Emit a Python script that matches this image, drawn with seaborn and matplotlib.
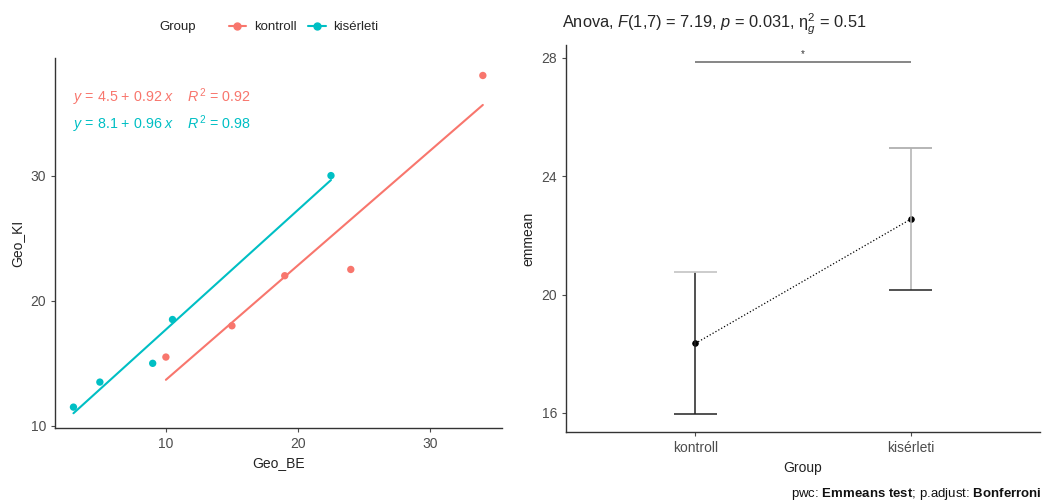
import pandas as pd
import matplotlib.pyplot as plt
import seaborn as sns
from matplotlib.lines import Line2D


# ---- data ----
groups = ['kontroll', 'kisérleti']
colors = ['#F8766D', '#00BFC4']

kontroll_be = [10, 15, 19, 24, 34]
kontroll_ki = [15.5, 18, 22, 22.5, 38]
kiserleti_be = [3, 5, 9, 10.5, 22.5]
kiserleti_ki = [11.5, 13.5, 15, 18.5, 30]

eq_labels = [r'$\it{y}$ = 4.5 + 0.92 $\it{x}$    $\it{R}^2$ = 0.92',
             r'$\it{y}$ = 8.1 + 0.96 $\it{x}$    $\it{R}^2$ = 0.98']

emmean = [18.35, 22.55]
ci_low = [15.95, 20.15]
ci_high = [20.75, 24.95]

sns.set_theme(style='ticks')
plt.rcParams['font.family'] = ['Liberation Sans', 'DejaVu Sans']
plt.rcParams['mathtext.fontset'] = 'custom'
plt.rcParams['mathtext.rm'] = 'Liberation Sans'
plt.rcParams['mathtext.it'] = 'Liberation Sans:italic'
plt.rcParams['mathtext.bf'] = 'Liberation Sans:bold'

df = pd.DataFrame({
    'Geo_BE': kontroll_be + kiserleti_be,
    'Geo_KI': kontroll_ki + kiserleti_ki,
    'Group': [groups[0]] * len(kontroll_be) + [groups[1]] * len(kiserleti_be),
})
emm_df = pd.DataFrame({'Group': groups, 'emmean': emmean,
                       'low': ci_low, 'high': ci_high})

fig = plt.figure(figsize=(10.43, 5.04), dpi=100)
ax1 = fig.add_axes([0.0527, 0.151, 0.4286, 0.734])
ax2 = fig.add_axes([0.5427, 0.143, 0.4545, 0.768])

tick_col = '#4d4d4d'

# ========================= left: scatter + fits =========================
sns.scatterplot(data=df, x='Geo_BE', y='Geo_KI', hue='Group', palette=colors,
                s=28, linewidth=0, legend=False, ax=ax1)
for g, c in zip(groups, colors):
    sns.regplot(data=df[df['Group'] == g], x='Geo_BE', y='Geo_KI', scatter=False,
                ci=None, color=c, line_kws={'lw': 1.5}, ax=ax1)

ax1.set_xlim(1.6, 35.45)
ax1.set_ylim(9.84, 39.4)
ax1.set_xticks([10, 20, 30])
ax1.set_yticks([10, 20, 30])
ax1.set_xlabel('Geo_BE', fontsize=10, color='#222222')
ax1.set_ylabel('Geo_KI', fontsize=10, color='#222222')
for i, (lab, c) in enumerate(zip(eq_labels, colors)):
    ax1.text(0.04, 0.895 - i * 0.075, lab, transform=ax1.transAxes, color=c,
             fontsize=10.3, va='center', ha='left')

# legend on top
fig.text(0.153, 0.946, 'Group', fontsize=9.5, va='center', ha='left', color='#222222')
handles = [Line2D([], [], color=c, marker='o', markersize=5, lw=1.5) for c in colors]
fig.legend(handles, groups, loc='center left', bbox_to_anchor=(0.208, 0.946),
           ncol=2, frameon=False, fontsize=9.5, handlelength=1.3,
           handletextpad=0.6, columnspacing=0.9)

# ========================= right: emmeans plot =========================
sns.pointplot(data=emm_df, x='Group', y='emmean', color='black', errorbar=None,
              linestyles=':', markersize=4, linewidth=0.9, ax=ax2)

ax2.vlines([0], ci_low[0], ci_high[0], color='#222222', lw=1.1)
ax2.vlines([1], ci_low[1], ci_high[1], color='#b0b0b0', lw=1.1)
ax2.hlines(ci_high, [-0.1, 0.9], [0.1, 1.1], color=['#c8c8c8', '#b0b0b0'], lw=1.3)
ax2.hlines(ci_low, [-0.1, 0.9], [0.1, 1.1], color='#222222', lw=1.1)

# significance bracket
ax2.hlines([27.87], 0, 1, color='#666666', lw=1.1)
ax2.text(0.5, 27.95, '*', ha='center', va='bottom', fontsize=7, color='#333333')

ax2.set_xlim(-0.6, 1.6)
ax2.set_ylim(15.36, 28.44)
ax2.set_yticks([16, 20, 24, 28])
ax2.set_xlabel('Group', fontsize=10, color='#222222')
ax2.set_ylabel('emmean', fontsize=10, color='#222222')
ax2.set_title(r'Anova, $\it{F}$(1,7) = 7.19, $\it{p}$ = 0.031, $\mathrm{\eta}^2_g$ = 0.51',
              fontsize=11.8, loc='left', x=-0.008, pad=12)
fig.text(0.999, 0.02, r'pwc: $\bf{Emmeans\ test}$; p.adjust: $\bf{Bonferroni}$',
         ha='right', va='center', fontsize=9.5, color='#111111')

for ax in (ax1, ax2):
    sns.despine(ax=ax)
    ax.tick_params(labelsize=10, colors=tick_col, length=3, width=0.8)
    for s in ('left', 'bottom'):
        ax.spines[s].set_color('#333333')
        ax.spines[s].set_linewidth(1.0)

fig.savefig('out.png', dpi=100)
